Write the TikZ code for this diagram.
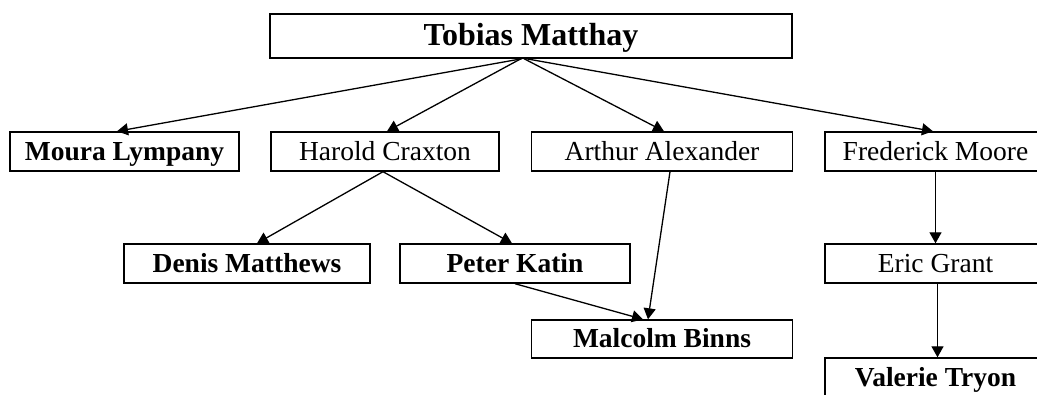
\documentclass[tikz,border=0pt]{standalone}
\usepackage{fontspec}
\setmainfont{Liberation Serif}
\usetikzlibrary{arrows.meta}
\begin{document}
\begin{tikzpicture}[x=1pt,y=-1pt,
  person/.style={draw=black, line width=1.4pt, inner sep=0pt, minimum height=39pt,
    text height=19pt, text depth=2pt,
    font=\fontsize{27.5}{30}\selectfont, text=black},
  key/.style={person, font=\fontsize{27.5}{30}\selectfont\bfseries},
  link/.style={draw=black, line width=1.3pt, -{Triangle[length=11pt,width=12pt]}}]
\clip (0,0) rectangle (1037,394);
\fill[white] (0,0) rectangle (1037,394);
\node[person, minimum width=522pt, minimum height=44pt, text height=22pt, text depth=4pt,
  font=\fontsize{32}{36}\selectfont\bfseries] (tob) at (531,36) {Tobias Matthay};
\node[key, minimum width=229pt] (moura) at (124.5,151.5) {Moura Lympany};
\node[person, minimum width=228pt] (harold) at (385,151.5) {Harold Craxton};
\node[person, minimum width=261pt] (arthur) at (662,151.5) {Arthur Alexander};
\node[person, minimum width=221pt] (fred) at (935.5,151.5) {Frederick Moore};
\node[key, minimum width=246pt] (denis) at (247,263.5) {Denis Matthews};
\node[key, minimum width=230pt] (peter) at (515,263.5) {Peter Katin};
\node[person, minimum width=221pt] (eric) at (935.5,263.5) {Eric Grant};
\node[key, minimum width=261pt, minimum height=38pt] (malcolm) at (662,339) {Malcolm Binns};
\node[key, minimum width=221pt] (valerie) at (935.5,377.5) {Valerie Tryon};
\draw[link] ([xshift=-9pt]tob.south) -- ([xshift=-7.5pt]moura.north);
\draw[link] ([xshift=-10pt]tob.south) -- ([xshift=2pt]harold.north);
\draw[link] ([xshift=-7pt]tob.south) -- ([xshift=2pt]arthur.north);
\draw[link] ([xshift=-5pt]tob.south) -- ([xshift=-2.5pt]fred.north);
\draw[link] ([xshift=-2pt]harold.south) -- ([xshift=10pt]denis.north);
\draw[link] ([xshift=-2pt]harold.south) -- ([xshift=-3pt]peter.north);
\draw[link] ([xshift=8pt]arthur.south) -- ([xshift=-14pt]malcolm.north);
\draw[link] (peter.south) -- ([xshift=-19pt]malcolm.north);
\draw[link] (fred.south) -- (eric.north);
\draw[link] ([xshift=2pt]eric.south) -- ([xshift=2pt]valerie.north);
\end{tikzpicture}
\end{document}
